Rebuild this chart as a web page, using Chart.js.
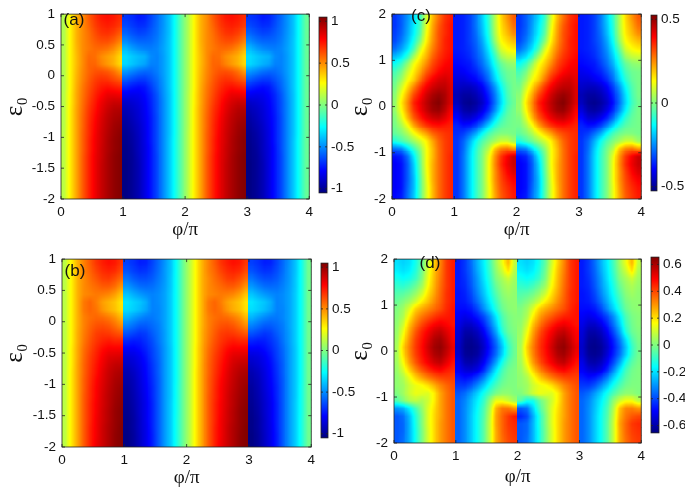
<!DOCTYPE html>
<html><head><meta charset="utf-8">
<script src="https://cdn.jsdelivr.net/npm/chart.js@4"></script>
<style>html,body{margin:0;padding:0;background:#fff;overflow:hidden}canvas{position:absolute;display:block}</style>
</head><body>
<script>
const phiCols=[.05,.15,.25,.35,.45,.55,.65,.75,.85,.95,1.05,1.15,1.25,1.35,1.45,1.55,1.65,1.75,1.85,1.95,2.05,2.15,2.25,2.35,2.45,2.55,2.65,2.75,2.85,2.95,3.05,3.15,3.25,3.35,3.45,3.55,3.65,3.75,3.85,3.95];
const epsRowsAB=[.9375,.8125,.6875,.5625,.4375,.3125,.1875,.0625,-.0625,-.1875,-.3125,-.4375,-.5625,-.6875,-.8125,-.9375,-1.0625,-1.1875,-1.3125,-1.4375,-1.5625,-1.6875,-1.8125,-1.9375];
const epsRowsCD=[1.92,1.75,1.58,1.42,1.25,1.08,.92,.75,.58,.42,.25,.08,-.08,-.25,-.42,-.58,-.75,-.92,-1.08,-1.25,-1.42,-1.58,-1.75,-1.92];
const phiTicks=[0,1,2,3,4];
const epsTicksAB=[-2,-1.5,-1,-.5,0,.5,1];
const epsTicksCD=[-2,-1,0,1,2];
const barTicksAB=[-1,-.5,0,.5,1];
const barTicksC=[-.5,0,.5];
const barTicksD=[-.6,-.4,-.2,0,.2,.4,.6];
// values x100; rows of 20 cover phi 0..2 and repeat for 2..4, rows of 40 cover all of phi 0..4
const valuesA=[
[10,28,42,50,60,68,74,76,74,70,-68,-70,-74,-72,-65,-57,-48,-38,-22,-5],
[10,28,42,50,58,66,71,73,71,67,-64,-67,-70,-69,-63,-56,-48,-38,-22,-5],
[10,28,42,50,56,63,68,69,66,60,-58,-62,-65,-64,-60,-55,-47,-38,-22,-5],
[10,28,42,50,55,60,63,63,59,52,-50,-55,-58,-58,-57,-53,-46,-37,-22,-5],
[10,28,41,50,54,57,57,55,50,42,-40,-46,-50,-52,-53,-51,-45,-37,-22,-5],
[10,28,40,50,57,56,50,46,42,34,-33,-37,-40,-42,-50,-52,-46,-37,-22,-5],
[10,28,40,50,58,58,52,47,42,34,-34,-38,-42,-45,-52,-52,-46,-37,-22,-5],
[10,28,41,51,58,62,63,61,56,48,-48,-52,-56,-58,-57,-53,-46,-37,-22,-5],
[10,28,42,52,60,66,69,68,64,60,-60,-64,-67,-67,-62,-56,-47,-37,-22,-5],
[10,28,43,54,62,69,74,76,74,72,-72,-75,-77,-75,-67,-58,-48,-37,-22,-5],
[11,29,44,55,64,72,78,83,83,82,-82,-83,-82,-78,-71,-61,-49,-38,-22,-5],
[11,29,44,56,66,74,82,87,90,90,-90,-88,-85,-80,-72,-62,-50,-38,-22,-5],
[11,30,45,57,68,76,84,90,94,95,-94,-91,-87,-81,-73,-62,-50,-38,-22,-5],
[11,30,45,58,69,78,86,92,96,98,-97,-93,-88,-82,-74,-63,-50,-38,-22,-5],
[11,30,45,58,70,79,87,93,98,100,-99,-95,-90,-83,-74,-63,-50,-38,-22,-5],
[12,30,45,59,70,80,88,94,99,102,-101,-97,-91,-84,-74,-63,-50,-38,-22,-5],
[12,30,45,59,71,81,88,95,100,103,-102,-98,-92,-84,-74,-63,-50,-37,-21,-5],
[12,30,45,59,71,81,89,95,100,103,-103,-99,-92,-85,-75,-63,-50,-37,-21,-5],
[12,30,45,60,72,82,89,96,101,104,-103,-100,-93,-85,-75,-64,-50,-37,-21,-5],
[12,30,45,60,72,82,90,96,101,104,-104,-100,-94,-85,-75,-64,-50,-37,-21,-5],
[12,30,45,60,72,82,90,96,101,104,-104,-100,-94,-85,-75,-64,-50,-37,-21,-5],
[12,30,45,60,72,82,90,96,101,104,-104,-100,-94,-85,-75,-64,-50,-37,-21,-5],
[12,30,45,60,72,82,90,96,101,104,-104,-100,-94,-85,-75,-64,-50,-37,-21,-5],
[12,30,45,60,72,82,90,96,101,104,-104,-100,-94,-85,-75,-64,-50,-37,-21,-5]];
const valuesB=[
[12,28,42,52,60,68,73,76,74,68,-66,-69,-73,-72,-65,-57,-48,-38,-22,-3],
[12,28,42,52,58,65,70,72,70,64,-62,-66,-69,-68,-63,-56,-47,-38,-22,-3],
[12,28,42,50,56,61,66,67,63,57,-55,-60,-63,-63,-60,-54,-47,-37,-22,-3],
[12,28,42,50,54,57,60,60,56,48,-47,-52,-56,-57,-56,-52,-46,-37,-22,-3],
[12,28,42,50,52,54,53,51,46,38,-38,-43,-47,-50,-52,-50,-45,-36,-22,-3],
[12,28,42,54,58,53,46,42,38,31,-31,-35,-38,-43,-52,-50,-45,-36,-22,-3],
[12,28,42,54,58,55,48,43,39,32,-33,-36,-40,-45,-52,-51,-45,-36,-22,-3],
[12,28,42,52,56,58,57,54,49,41,-42,-47,-51,-54,-54,-51,-45,-36,-22,-3],
[12,28,42,52,58,62,63,61,56,50,-52,-56,-60,-60,-57,-53,-45,-36,-22,-3],
[12,28,43,53,60,66,68,67,64,61,-62,-65,-68,-66,-60,-54,-46,-36,-22,-3],
[12,28,43,54,62,68,72,74,72,72,-72,-74,-73,-69,-63,-55,-46,-36,-22,-3],
[12,29,44,56,64,71,77,80,80,80,-80,-80,-77,-72,-65,-57,-47,-37,-22,-3],
[12,29,44,57,66,73,80,85,86,87,-87,-85,-81,-75,-66,-58,-47,-37,-22,-3],
[12,29,45,58,67,75,82,88,91,92,-91,-88,-83,-77,-68,-59,-47,-37,-22,-3],
[12,30,45,58,68,76,84,90,94,96,-95,-91,-85,-78,-69,-59,-47,-37,-22,-3],
[12,30,45,59,69,78,85,91,96,98,-97,-93,-86,-79,-70,-60,-47,-37,-22,-3],
[12,30,45,59,70,79,86,92,97,100,-99,-94,-87,-80,-71,-60,-47,-37,-21,-3],
[12,30,45,60,70,79,87,93,98,101,-100,-95,-88,-81,-71,-60,-47,-37,-21,-3],
[12,30,45,60,71,80,87,93,99,102,-101,-96,-89,-82,-72,-60,-47,-36,-21,-3],
[12,30,45,60,71,80,88,94,100,103,-102,-97,-89,-82,-72,-60,-47,-36,-21,-3],
[12,30,45,60,71,81,88,94,100,103,-103,-98,-90,-82,-72,-60,-47,-36,-20,-3],
[12,30,45,60,72,81,89,95,100,104,-103,-98,-90,-83,-72,-60,-47,-36,-20,-3],
[12,30,45,60,72,81,89,95,101,104,-104,-99,-91,-83,-73,-60,-47,-36,-20,-3],
[12,30,45,60,72,82,89,95,101,104,-104,-99,-91,-83,-73,-60,-47,-36,-20,-3]];
const valuesC=[
[-34,-30,-24,-17,-8,8,20,28,34,37,-37,-36,-33,-27,-18,-8,5,17,24,30],
[-34,-30,-23,-15,-6,10,22,30,35,38,-37,-36,-33,-27,-19,-9,5,16,22,28],
[-33,-29,-22,-14,-4,12,23,31,35,38,-37,-36,-33,-28,-20,-10,4,15,20,25],
[-32,-27,-20,-11,0,14,24,31,36,38,-37,-36,-33,-29,-22,-12,2,13,17,20],
[-28,-23,-16,-6,8,18,26,32,36,38,-37,-36,-34,-30,-24,-15,-3,9,13,15],
[-20,-16,-8,4,14,21,29,34,37,39,-38,-37,-35,-31,-26,-18,-8,3,7,8],
[-12,-7,2,12,18,25,32,36,39,40,-39,-38,-37,-33,-28,-21,-11,-3,1,2],
[-6,-1,8,15,22,30,35,39,41,41,-41,-40,-38,-36,-31,-25,-15,-6,-2,-1],
[-3,3,12,18,27,35,40,43,44,42,-43,-43,-41,-39,-35,-28,-18,-9,-3,-1],
[-1,8,17,26,34,40,44,46,46,43,-45,-46,-46,-44,-40,-33,-24,-13,-5,-1],
[1,12,22,32,38,44,48,50,48,43,-47,-49,-49,-47,-43,-36,-27,-16,-6,-1],
[2,15,25,36,41,46,50,52,48,43,-46,-50,-51,-49,-45,-38,-28,-17,-7,-2],
[2,13,24,34,40,45,49,50,46,40,-43,-48,-49,-47,-42,-35,-25,-14,-5,-1],
[0,9,20,30,36,41,44,45,42,38,-39,-44,-44,-41,-36,-28,-17,-8,-3,-1],
[-1,4,12,22,29,34,37,38,37,36,-36,-38,-37,-33,-26,-17,-9,-4,-2,-1],
[-3,0,5,12,18,23,29,32,34,35,-35,-33,-28,-22,-13,-6,-2,0,0,-1],
[-10,-6,-2,3,8,14,22,29,33,35,-34,-29,-21,-12,-5,0,4,8,8,3],
[-28,-26,-17,-8,1,12,20,28,33,35,-34,-28,-18,-9,-1,6,19,26,28,24],
[-38,-36,-28,-15,-2,12,20,28,33,36,-34,-27,-17,-8,0,11,24,34,40,45],
[-40,-38,-30,-18,-3,12,21,28,33,36,-34,-27,-17,-8,0,12,25,35,41,45],
[-40,-38,-30,-19,-4,11,21,28,33,36,-34,-27,-17,-8,0,12,24,33,39,43],
[-40,-38,-30,-20,-5,10,21,28,33,36,-34,-27,-17,-8,0,12,24,32,37,40],
[-40,-38,-29,-20,-5,9,20,28,33,36,-34,-27,-17,-8,0,11,23,31,35,38],
[-39,-37,-28,-19,-5,9,20,28,33,36,-34,-27,-17,-8,0,11,22,30,34,37]];
const valuesD=[
[-20,-22,-20,-14,-4,10,22,32,42,46,-46,-42,-35,-26,-18,-8,4,14,26,8],
[-18,-20,-18,-12,-2,12,24,33,42,46,-46,-42,-36,-27,-19,-9,2,10,20,6],
[-14,-16,-14,-9,0,14,25,34,42,46,-46,-43,-37,-29,-20,-11,0,5,10,4],
[-10,-11,-8,-3,4,16,26,35,42,46,-46,-44,-38,-30,-22,-13,-3,3,6,3],
[-6,-5,-2,3,10,20,28,36,43,46,-47,-45,-40,-32,-24,-15,-6,1,4,2],
[-3,0,4,10,18,24,31,37,43,46,-47,-46,-42,-35,-27,-18,-9,-1,2,2],
[0,4,12,22,27,31,35,39,44,47,-48,-48,-46,-40,-31,-22,-12,-3,1,2],
[1,6,18,28,34,38,42,45,46,47,-50,-52,-50,-46,-40,-31,-19,-7,-1,1],
[2,10,24,33,40,45,49,51,49,47,-52,-56,-56,-52,-45,-35,-23,-9,-2,1],
[3,14,28,38,45,50,55,57,53,49,-54,-60,-60,-57,-50,-40,-28,-12,-3,0],
[4,18,31,41,47,53,59,61,56,50,-55,-62,-63,-60,-54,-45,-34,-20,-7,-1],
[5,22,33,42,48,55,61,63,58,52,-56,-63,-64,-62,-56,-47,-37,-24,-10,-2],
[5,20,32,41,47,53,59,61,56,50,-55,-62,-63,-61,-54,-45,-35,-22,-9,-2],
[4,16,29,38,45,50,55,57,52,47,-52,-59,-60,-57,-50,-40,-28,-14,-5,-1],
[3,11,22,31,38,43,47,49,46,44,-50,-54,-55,-52,-44,-32,-19,-8,-2,0],
[2,6,14,22,28,33,37,40,41,41,-46,-48,-46,-41,-33,-22,-13,-5,-1,0],
[2,4,10,14,16,20,26,32,36,39,-42,-42,-38,-31,-23,-14,-7,-2,0,0],
[0,4,10,14,13,12,18,28,34,38,-38,-35,-29,-22,-14,-7,-1,2,2,0],
[-6,0,6,8,6,10,18,28,34,38,-36,-32,-25,-18,-10,2,14,14,10,4,-5,-14,-14,-4,3,10,18,28,34,38,-36,-32,-25,-18,-10,2,10,15,15,8],
[-30,-27,-18,-8,2,12,20,28,34,38,-36,-31,-24,-16,-7,6,26,34,34,30,-38,-35,-22,-8,2,12,20,28,34,38,-36,-31,-24,-16,-7,6,24,32,33,30],
[-38,-35,-25,-12,0,12,21,28,34,38,-36,-31,-23,-15,-6,8,28,36,42,46,-44,-40,-27,-13,0,12,21,28,34,38,-36,-31,-23,-15,-6,8,26,34,38,40],
[-38,-36,-26,-13,0,12,21,29,34,38,-36,-31,-23,-15,-5,9,28,36,42,44],
[-38,-36,-26,-14,-1,11,21,29,34,38,-36,-31,-23,-15,-5,9,27,36,41,43],
[-38,-35,-26,-14,-1,11,21,29,34,38,-36,-31,-23,-15,-5,9,27,35,40,42]];

const SANS='"Liberation Sans",Arial,sans-serif', SERIF='"Liberation Serif",serif';
const INK='#222';
const clamp01=v=>Math.max(0,Math.min(1,v));
function jet(t){const c=v=>Math.round(255*clamp01(v));
  return [c(Math.min(4*t-1.5,-4*t+4.5)),c(Math.min(4*t-.5,-4*t+3.5)),c(Math.min(4*t+.5,-4*t+2.5))];}
const css=a=>`rgb(${a[0]},${a[1]},${a[2]})`;
function frame(ch,opts){
  const a=ch.chartArea,x=ch.ctx;x.save();x.strokeStyle=INK;x.lineWidth=.8;
  x.strokeRect(a.left,a.top,a.right-a.left,a.bottom-a.top);
  const L=opts.len||3;x.beginPath();
  for(const id of Object.keys(ch.scales)){const s=ch.scales[id];
    if(id==='y'){s.ticks.forEach(t=>{const p=s.getPixelForValue(t.value);x.moveTo(a.left,p);x.lineTo(a.left+L,p);x.moveTo(a.right,p);x.lineTo(a.right-L,p);});}
    if(id==='x'&&opts.xticks){s.ticks.forEach(t=>{const p=s.getPixelForValue(t.value);x.moveTo(p,a.bottom);x.lineTo(p,a.bottom-L);x.moveTo(p,a.top);x.lineTo(p,a.top+L);});}
  }
  x.stroke();
  if(opts.label){x.fillStyle='#111';x.font='17px '+SANS;x.textAlign='center';x.textBaseline='middle';x.fillText(opts.label[0],opts.label[1],opts.label[2]);}
  x.restore();
}
function mk(left,top,w,h){const c=document.createElement('canvas');c.width=w;c.height=h;c.style.left=left+'px';c.style.top=top+'px';c.style.width=w+'px';c.style.height=h+'px';document.body.appendChild(c);return c;}
// Each cell is stamped as a small shaded tile, so the map reads as continuous shading.
function cellTile(grid,i,j,cellW,cellH,W,H,vmin,vmax,breaks){
  const nR=grid.length,nC=grid[0].length;
  const at=(c,r)=>grid[Math.max(0,Math.min(nR-1,r))][Math.max(0,Math.min(nC-1,c))];
  const s=document.createElement('canvas');s.width=W;s.height=H;const x=s.getContext('2d');const im=x.createImageData(W,H);
  for(let py=0;py<H;py++)for(let px=0;px<W;px++){
    const fx=(px+.5-W/2)/cellW,fy=(py+.5-H/2)/cellH;
    const sx=fx<0?-1:1,sy=fy<0?-1:1;
    let ax=Math.min(Math.abs(fx),1);const ay=Math.min(Math.abs(fy),1);
    if((sx>0&&breaks.includes(i))||(sx<0&&breaks.includes(i-1)))ax=0;
    const a=at(i,j)*(1-ax)+at(i+sx,j)*ax,b=at(i,j+sy)*(1-ax)+at(i+sx,j+sy)*ax;
    const v=a*(1-ay)+b*ay;
    const col=jet(clamp01((v-vmin)/(vmax-vmin)));
    const o=4*(py*W+px);im.data[o]=col[0];im.data[o+1]=col[1];im.data[o+2]=col[2];im.data[o+3]=255;
  }
  x.putImageData(im,0,0);return s;
}
function panel(p){
  const lm=p.left-p.cx,tm=p.top-p.cy,rm=p.cw-lm-(p.right-p.left),bm=p.ch-tm-(p.bottom-p.top);
  const cellW=(p.right-p.left)/40,cellH=(p.bottom-p.top)/24,W=Math.ceil(cellW)+1,H=Math.ceil(cellH)+1;
  const grid=p.rows.map(row=>(row.length===20?row.concat(row):row).map(v=>v/100));
  const pts=[],tiles=[];
  grid.forEach((full,j)=>full.forEach((v,i)=>{pts.push({x:phiCols[i],y:p.eps[j],v});
    tiles.push(cellTile(grid,i,j,cellW,cellH,W,H,p.vmin,p.vmax,p.breaks));}));
  new Chart(mk(p.cx,p.cy,p.cw,p.ch),{type:'scatter',
    data:{datasets:[{label:p.name,data:pts,pointRadius:1,pointHoverRadius:1,borderWidth:0,
      pointStyle:c=>tiles[c.dataIndex]||'rect'}]},
    options:{responsive:false,animation:false,events:[],layout:{padding:{top:tm,right:rm,left:0,bottom:0}},
      plugins:{legend:{display:false},tooltip:{enabled:false}},
      scales:{
        x:{type:'linear',min:0,max:4,afterBuildTicks:s=>{s.ticks=phiTicks.map(v=>({value:v}));},afterFit:s=>{s.height=bm;},
          grid:{display:false,drawTicks:false},border:{display:false},
          ticks:{autoSkip:false,maxRotation:0,padding:5,color:'#111',font:{family:SANS,size:13.5},callback:v=>String(v)},
          title:{display:true,text:'φ/π',color:'#111',font:{family:SERIF,size:19},padding:{top:0,bottom:p.xtitlePad}}},
        y:{type:'linear',min:p.ymin,max:p.ymax,afterBuildTicks:s=>{s.ticks=p.yticks.map(v=>({value:v}));},afterFit:s=>{s.width=lm;},
          grid:{display:false,drawTicks:false},border:{display:false},
          ticks:{autoSkip:false,padding:6,color:'#111',font:{family:SANS,size:13.5},callback:v=>String(v)},
          title:{display:true,text:'ε₀',color:'#111',font:{family:SERIF,size:25},padding:{top:0,bottom:0}}}
      }},
    plugins:[{id:'frame',afterDraw:ch=>frame(ch,{xticks:true,label:[p.tag,p.tagX-p.cx,p.tagY-p.cy]})}]});
  // colour bar
  const b=p.bar,bw=b.right-b.left,bh=b.bottom-b.top,cx=b.left-1,cy=b.top-3;
  new Chart(mk(cx,cy,b.cw,bh+6),{type:'bar',
    data:{labels:[p.name+' colour bar'],datasets:[{data:[[p.vmin,p.vmax]],barPercentage:1,categoryPercentage:1,
      backgroundColor:c=>{const ch=c.chart,a=ch.chartArea;if(!a)return '#888';
        const g=ch.ctx.createLinearGradient(0,a.bottom,0,a.top);
        for(let i=0;i<=64;i++)g.addColorStop(i/64,css(jet(i/64)));return g;}}]},
    options:{responsive:false,animation:false,events:[],layout:{padding:{top:3,bottom:3,left:1,right:0}},
      plugins:{legend:{display:false},tooltip:{enabled:false}},
      scales:{
        x:{display:false},
        y:{position:'right',min:p.vmin,max:p.vmax,afterBuildTicks:s=>{s.ticks=b.ticks.map(v=>({value:v}));},afterFit:s=>{s.width=b.cw-1-bw;},
          grid:{display:false,drawTicks:false},border:{display:false},
          ticks:{autoSkip:false,padding:4,color:'#111',font:{family:SANS,size:13.5},callback:v=>String(v)}}
      }},
    plugins:[{id:'frame',afterDraw:ch=>frame(ch,{len:2})}]});
}
panel({name:'a',tag:'(a)',tagX:74,tagY:20,rows:valuesA,eps:epsRowsAB,yticks:epsTicksAB,ymin:-2,ymax:1,vmin:-1.05,vmax:1.05,xtitlePad:4,breaks:[9,29],
  left:61,right:312,top:6,bottom:199,cx:0,cy:0,cw:318,ch:245,bar:{left:319,right:327,top:8,bottom:202,cw:38,ticks:barTicksAB}});
panel({name:'b',tag:'(b)',tagX:75,tagY:271,rows:valuesB,eps:epsRowsAB,yticks:epsTicksAB,ymin:-2,ymax:1,vmin:-1.05,vmax:1.05,xtitlePad:0,breaks:[9,29],
  left:62,right:314,top:255,bottom:447,cx:0,cy:245,cw:320,ch:244,bar:{left:321,right:328,top:254,bottom:447,cw:38,ticks:barTicksAB}});
panel({name:'c',tag:'(c)',tagX:421,tagY:16,rows:valuesC,eps:epsRowsCD,yticks:epsTicksCD,ymin:-2,ymax:2,vmin:-.525,vmax:.525,xtitlePad:4,breaks:[9,19,29],
  left:392,right:644,top:6,bottom:199,cx:345,cy:0,cw:305,ch:245,bar:{left:651,right:657,top:6,bottom:200,cw:35,ticks:barTicksC}});
panel({name:'d',tag:'(d)',tagX:430,tagY:263,rows:valuesD,eps:epsRowsCD,yticks:epsTicksCD,ymin:-2,ymax:2,vmin:-.655,vmax:.655,xtitlePad:1,breaks:[9,19,29],
  left:394,right:645,top:251,bottom:443,cx:345,cy:245,cw:305,ch:244,bar:{left:651,right:659,top:248,bottom:442,cw:35,ticks:barTicksD}});
</script>
</body></html>
